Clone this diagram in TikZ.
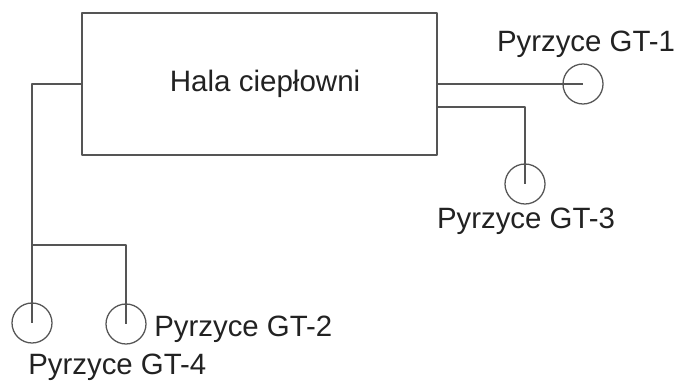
\documentclass[tikz,border=0pt]{standalone}
\usepackage{fontspec}
\setmainfont{Liberation Sans}
\definecolor{bg}{HTML}{FFFFFF}
\definecolor{pipe}{HTML}{555555}
\definecolor{label}{HTML}{222222}

\begin{document}
\begin{tikzpicture}[x=0.025cm,y=-0.025cm,line join=round,
  hall/.style={draw=pipe,line width=0.9pt,minimum width=355*0.025cm,minimum height=142*0.025cm,
    inner sep=0pt,font=\fontsize{21pt}{25pt}\selectfont,text=label},
  well/.style={draw=pipe,line width=0.9pt,circle,minimum size=1cm,inner sep=0pt},
  wlbl/.style={font=\fontsize{20.9pt}{25pt}\selectfont,text=label,inner sep=0pt},
  pipeline/.style={pipe,line width=0.9pt}]
  \useasboundingbox[fill=bg] (0,0) rectangle (675,381);

  % ===== heating plant hall =====
  \node[hall] (hala) at (259.5,84) {\hspace{8pt}Hala ciepłowni};

  % ===== wells =====
  \node[well] (gt1) at (583,84) {};
  \node[well] (gt3) at (525,184) {};
  \node[well] (gt4) at (32,323) {};
  \node[well] (gt2) at (126,324) {};
  \node[wlbl,anchor=base] (lgt1) at (586,52) {Pyrzyce GT-1};
  \node[wlbl,anchor=base] (lgt3) at (526,228) {Pyrzyce GT-3};
  \node[wlbl,anchor=base west] (lgt2) at (154,336) {Pyrzyce GT-2};
  \node[wlbl,anchor=base west] (lgt4) at (28,374) {Pyrzyce GT-4};

  % ===== pipelines =====
  \draw[pipeline] (hala.east) -- (gt1.center);
  \draw[pipeline] ([yshift=-16.3pt]hala.east) -| (gt3.center);
  \draw[pipeline] (hala.west) -| (gt4.center);
  \coordinate (split) at (32,245);
  \draw[pipeline] (split) -| (gt2.center);
\end{tikzpicture}
\end{document}
